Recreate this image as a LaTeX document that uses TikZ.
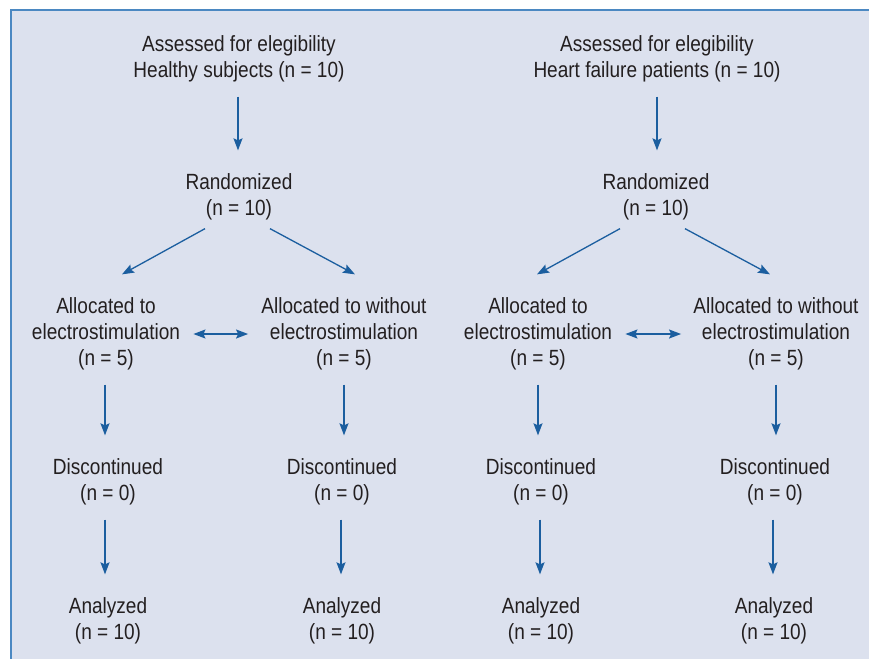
\documentclass[tikz,border=0pt]{standalone}
\usepackage{fontspec}
\setmainfont[FakeStretch=0.865]{Liberation Sans}
\usepackage{xcolor}
\usetikzlibrary{arrows.meta,calc}

\definecolor{panelfill}{HTML}{DCE1EE}
\definecolor{panelline}{HTML}{4B88C2}
\definecolor{arrowblue}{HTML}{1B5E9F}
\definecolor{textgray}{HTML}{231F20}

\begin{document}
\begin{tikzpicture}[x=0.5pt,y=-0.5pt]
  % Define styles
  \tikzstyle{box} = [align=center, inner sep=0pt, text=textgray, font=\fontsize{11}{13}\selectfont]
  \tikzstyle{arrow} = [draw=arrowblue, line width=0.65pt, -{Stealth[length=6pt,width=4.5pt,inset=1pt]}]
  \tikzstyle{twoway} = [draw=arrowblue, line width=0.65pt, {Stealth[length=6pt,width=4.5pt,inset=1pt]}-{Stealth[length=6pt,width=4.5pt,inset=1pt]}]

  % Panel
  \useasboundingbox (0,0) rectangle (869,659);
  \fill[white] (0,0) rectangle (869,659);
  \draw[panelline, fill=panelfill, line width=0.8pt] (11,10) rectangle (890,680);

  % Healthy subjects
  \node [box] (assessH) at (239,59) {Assessed for elegibility\\Healthy subjects (n = 10)};
  \node [box] (randH) at (239,197) {Randomized\\(n = 10)};
  \node [box] (withH) at (106,334) {Allocated to\\electrostimulation\\(n = 5)};
  \node [box] (withoutH) at (344,334) {Allocated to without\\electrostimulation\\(n = 5)};
  \node [box] (discWithH) at (108,482) {Discontinued\\(n = 0)};
  \node [box] (discWithoutH) at (342,482) {Discontinued\\(n = 0)};
  \node [box] (anaWithH) at (108,621) {Analyzed\\(n = 10)};
  \node [box] (anaWithoutH) at (342,621) {Analyzed\\(n = 10)};

  % Heart failure patients
  \node [box] (assessF) at (657,59) {Assessed for elegibility\\Heart failure patients (n = 10)};
  \node [box] (randF) at (656,197) {Randomized\\(n = 10)};
  \node [box] (withF) at (538,334) {Allocated to\\electrostimulation\\(n = 5)};
  \node [box] (withoutF) at (776,334) {Allocated to without\\electrostimulation\\(n = 5)};
  \node [box] (discWithF) at (541,482) {Discontinued\\(n = 0)};
  \node [box] (discWithoutF) at (775,482) {Discontinued\\(n = 0)};
  \node [box] (anaWithF) at (541,621) {Analyzed\\(n = 10)};
  \node [box] (anaWithoutF) at (774,621) {Analyzed\\(n = 10)};

  % Arrows
  \draw [arrow] ($(assessH.south)+(-1,14)$) -- ($(randH.north)+(-1,-23)$);
  \draw [arrow] ($(assessF.south)+(0,14)$) -- ($(randF.north)+(1,-23)$);

  \draw [arrow] ($(randH.south)+(-34,8)$) -- ($(withH.north)+(16,-23)$);
  \draw [arrow] ($(randH.south)+(31,8)$) -- ($(withoutH.north)+(11,-23)$);
  \draw [arrow] ($(randF.south)+(-36,8)$) -- ($(withF.north)+(-1,-23)$);
  \draw [arrow] ($(randF.south)+(29,8)$) -- ($(withoutF.north)+(-6,-23)$);

  \draw [twoway] ($(withH.east)+(13,0)$) -- ($(withoutH.west)+(-13,0)$);
  \draw [twoway] ($(withF.east)+(13,0)$) -- ($(withoutF.west)+(-12,0)$);

  \draw [arrow] ($(withH.south)+(-1,14)$) -- ($(discWithH.north)+(-3,-23)$);
  \draw [arrow] ($(withoutH.south)+(0,14)$) -- ($(discWithoutH.north)+(2,-23)$);
  \draw [arrow] ($(withF.south)+(0,14)$) -- ($(discWithF.north)+(-3,-23)$);
  \draw [arrow] ($(withoutF.south)+(0,14)$) -- ($(discWithoutF.north)+(1,-23)$);

  \draw [arrow] ($(discWithH.south)+(-3,14)$) -- ($(anaWithH.north)+(-3,-23)$);
  \draw [arrow] ($(discWithoutH.south)+(-1,14)$) -- ($(anaWithoutH.north)+(-1,-23)$);
  \draw [arrow] ($(discWithF.south)+(-1,14)$) -- ($(anaWithF.north)+(-1,-23)$);
  \draw [arrow] ($(discWithoutF.south)+(-2,14)$) -- ($(anaWithoutF.north)+(-1,-23)$);
\end{tikzpicture}
\end{document}
